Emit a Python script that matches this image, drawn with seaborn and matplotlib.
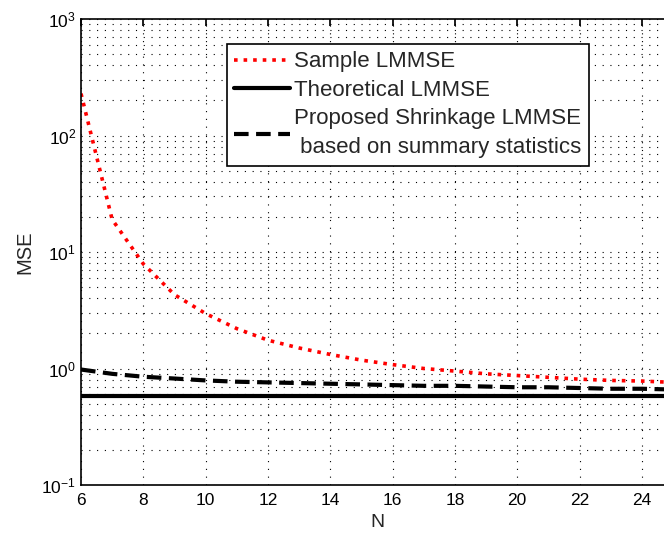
import numpy as np
import pandas as pd
import seaborn as sns
import matplotlib.pyplot as plt
from matplotlib.ticker import LogLocator, NullFormatter

# valeurs
N = [6, 7, 8, 9, 10, 11, 12, 13, 14, 15, 16, 17, 18, 19, 20, 21, 22, 23, 24, 25]
mse_sample = [229, 19, 7.9, 4.3, 2.96, 2.2, 1.75, 1.5, 1.32, 1.18, 1.08, 1.0,
              0.95, 0.9, 0.87, 0.84, 0.81, 0.79, 0.78, 0.76]
mse_theory = [0.575] * len(N)
mse_shrink = [0.98, 0.9, 0.85, 0.82, 0.79, 0.77, 0.76, 0.75, 0.74, 0.73, 0.72,
              0.71, 0.71, 0.70, 0.69, 0.69, 0.68, 0.67, 0.67, 0.66]

labels = ["Sample LMMSE", "Theoretical LMMSE",
          "Proposed Shrinkage LMMSE\n based on summary statistics"]

sns.set_theme(style="white")
plt.rcParams['font.family'] = ['Liberation Sans', 'DejaVu Sans']
plt.rcParams['mathtext.default'] = 'regular'

fig = plt.figure(figsize=(6.64, 5.33), dpi=100)
ax = fig.add_axes([81 / 664, 1 - 485 / 533, (673 - 81) / 664, (485 - 19) / 533])

df = pd.DataFrame({"N": N, "sample": mse_sample, "theory": mse_theory, "shrink": mse_shrink})

sns.lineplot(data=df, x="N", y="sample", ax=ax, color='red', linestyle=':', linewidth=2.6,
             label=labels[0])
sns.lineplot(data=df, x="N", y="theory", ax=ax, color='black', linestyle='-', linewidth=3,
             label=labels[1])
sns.lineplot(data=df, x="N", y="shrink", ax=ax, color='black', linewidth=3,
             dashes=False, label=labels[2])
ax.lines[2].set_dashes([3.5, 1.8])

ax.set_yscale('log')
ax.set_xlim(6, 25)
ax.set_ylim(0.1, 1000)
ax.set_xticks([6, 8, 10, 12, 14, 16, 18, 20, 22, 24])
ax.yaxis.set_major_locator(LogLocator(base=10, numticks=10))
ax.yaxis.set_minor_locator(LogLocator(base=10, subs=np.arange(2, 10), numticks=20))
ax.yaxis.set_minor_formatter(NullFormatter())

grid_ls = (0, (1, 6))
ax.grid(True, which='major', axis='both', linestyle=grid_ls, color='black', linewidth=0.8)
ax.grid(True, which='minor', axis='y', linestyle=grid_ls, color='black', linewidth=0.8)
ax.set_axisbelow(True)

ax.tick_params(which='both', direction='in', top=True, right=True, labelsize=12.5, colors='black')
ax.tick_params(which='major', length=5)
ax.tick_params(which='minor', length=3)
ax.tick_params(axis='x', pad=6)
for s in ax.spines.values():
    s.set_color('black')
    s.set_linewidth(1.2)

ax.set_xlabel("N", fontsize=14, labelpad=4)
ax.set_ylabel("MSE", fontsize=14.5, labelpad=5)

leg = ax.legend(loc='upper left', bbox_to_anchor=((227 - 81) / 592, 1 - (44 - 19) / 466),
                borderaxespad=0, fontsize=16, frameon=True, fancybox=False,
                edgecolor='black', framealpha=1, handlelength=2.5, handletextpad=0.2,
                labelspacing=0.34, borderpad=0.33)
leg.get_frame().set_linewidth(1.2)
leg.get_texts()[2].set_linespacing(1.5)

fig.savefig("out.png", dpi=100)
